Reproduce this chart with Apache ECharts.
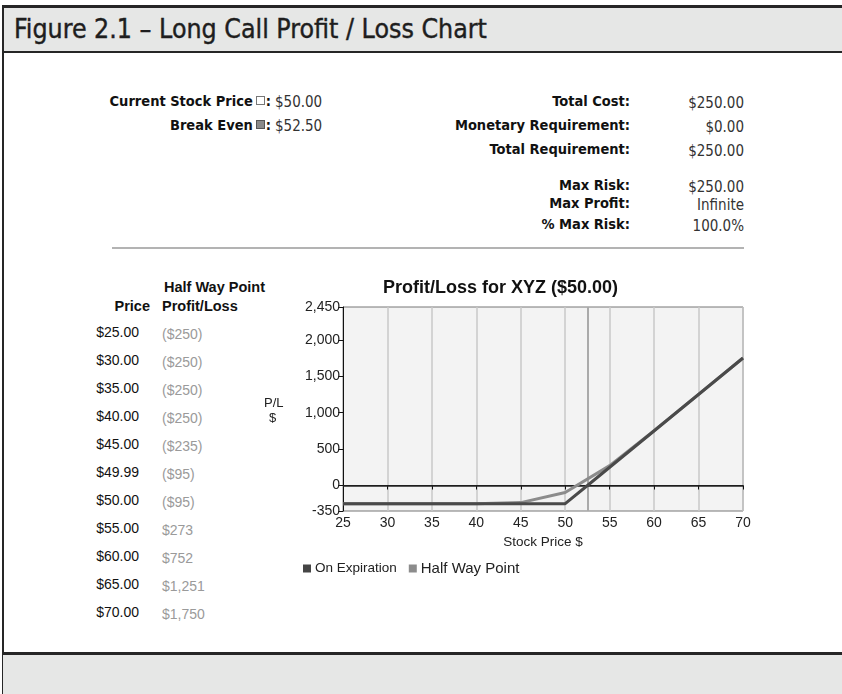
<!DOCTYPE html>
<html>
<head>
<meta charset="utf-8">
<script src="https://cdn.jsdelivr.net/npm/echarts@6/dist/echarts.min.js"></script>
<style>
  html, body { margin:0; padding:0; background:#fff; }
  #page { position:relative; width:842px; height:694px; overflow:hidden; background:#fff; font-family:'Liberation Sans', Arial, sans-serif; }
  .abs { position:absolute; white-space:nowrap; }
  .band { position:absolute; background:#e6e7e6; }
  .rule { position:absolute; background:#262626; }
  .narrow { font-family:'Liberation Sans Narrow','DejaVu Sans Condensed','Liberation Sans',sans-serif; }
  .lbl { font-weight:bold; font-size:14.5px; color:#111; transform:translateY(-50%); }
  .val { font-size:15px; color:#333; transform:translateY(-50%); }
  .rt { text-align:right; }
  .sq { display:inline-block; width:8px; height:8px; margin:0 1px 0 3px; vertical-align:1px; }
  .thead { font-weight:bold; font-size:14.5px; color:#111; transform:translateY(-50%); }
  .tcell { font-size:14px; color:#111; transform:translateY(-50%); }
  .tval { font-size:14px; color:#9a9a9a; transform:translateY(-50%); }
  #chart { position:absolute; left:0; top:0; width:842px; height:694px; }
</style>
</head>
<body>
<div id="page">
  <div class="band" style="left:3px;top:7px;width:839px;height:44px;"></div>
  <div class="rule" style="left:2px;top:5px;width:840px;height:2.5px;"></div>
  <div class="rule" style="left:2px;top:51px;width:840px;height:2px;"></div>
  <div class="rule" style="left:2px;top:5px;width:2px;height:689px;"></div>
  <div class="band" style="left:3px;top:654px;width:839px;height:40px;"></div>
  <div class="rule" style="left:2px;top:652px;width:840px;height:2.5px;"></div>

  <div class="abs narrow" style="left:14px;top:28px;transform:translateY(-50%);font-size:26.5px;color:#1e1e1e;-webkit-text-stroke:0.4px #1e1e1e;">Figure 2.1 – Long Call Profit / Loss Chart</div>

  <div id="info"></div>
  <div class="abs" style="left:112px;top:247px;width:632px;height:2px;background:#b3b3b3;"></div>
  <div id="table"></div>
  <div id="chart"></div>
</div>
<script>
// ---- data ----
const currentPrice = 50.00;
const breakEven = 52.50;
const infoLabels = ['Total Cost:', 'Monetary Requirement:', 'Total Requirement:', 'Max Risk:', 'Max Profit:', '% Max Risk:'];
const infoValues = ['$250.00', '$0.00', '$250.00', '$250.00', 'Infinite', '100.0%'];

const tablePrices = [25.00, 30.00, 35.00, 40.00, 45.00, 49.99, 50.00, 55.00, 60.00, 65.00, 70.00];
const halfWayPL   = [-250, -250, -250, -250, -235, -95, -95, 273, 752, 1251, 1750];

const expirationPrices = [25, 50, 52.5, 70];
const expirationPL     = [-250, -250, 0, 1750];

const xTickValues = [25, 30, 35, 40, 45, 50, 55, 60, 65, 70];
const yTickValues = [-350, 0, 500, 1000, 1500, 2000, 2450];

// ---- info block ----
const infoRowsY = [101, 125, 149, 185, 203, 224];
let html = '';
html += '<div class="abs narrow lbl rt" style="right:571px;top:101px;">Current Stock Price<span class="sq" style="background:#fff;border:1px solid #777;width:7px;height:7px;"></span>:</div>';
html += '<div class="abs narrow val" style="left:275px;top:102px;">$' + currentPrice.toFixed(2) + '</div>';
html += '<div class="abs narrow lbl rt" style="right:571px;top:125px;">Break Even<span class="sq" style="background:#8a8a8a;border:1px solid #555;width:7px;height:7px;"></span>:</div>';
html += '<div class="abs narrow val" style="left:275px;top:126px;">$' + breakEven.toFixed(2) + '</div>';
infoLabels.forEach((l, i) => {
  html += '<div class="abs narrow lbl rt" style="right:212px;top:' + infoRowsY[i] + 'px;">' + l + '</div>';
  html += '<div class="abs narrow val rt" style="right:98px;top:' + (infoRowsY[i] + 2) + 'px;">' + infoValues[i] + '</div>';
});
document.getElementById('info').innerHTML = html;

// ---- table ----
function fmtPL(v) {
  const s = '$' + Math.abs(v).toLocaleString('en-US');
  return v < 0 ? '(' + s + ')' : s;
}
let t = '';
t += '<div class="abs thead" style="left:164px;top:287px;">Half Way Point</div>';
t += '<div class="abs thead rt" style="right:692px;top:306px;">Price</div>';
t += '<div class="abs thead" style="left:162px;top:306px;">Profit/Loss</div>';
tablePrices.forEach((p, i) => {
  const y = 332 + i * 28;
  t += '<div class="abs tcell rt" style="right:703px;top:' + y + 'px;">$' + p.toFixed(2) + '</div>';
  t += '<div class="abs tval" style="left:162px;top:' + (y + 2) + 'px;">' + fmtPL(halfWayPL[i]) + '</div>';
});
document.getElementById('table').innerHTML = t;

// ---- chart ----
const chart = echarts.init(document.getElementById('chart'), null, { renderer: 'canvas' });
const font = "'Liberation Sans', Arial, sans-serif";
chart.setOption({
  backgroundColor: 'transparent',
  animation: false,
  textStyle: { fontFamily: font },
  title: {
    text: 'Profit/Loss for XYZ ($' + currentPrice.toFixed(2) + ')',
    left: 383, top: 279, padding: 0,
    textStyle: { fontSize: 18, fontWeight: 'bold', color: '#111', fontFamily: font }
  },
  legend: {
    left: 298, top: 556,
    icon: 'rect', itemWidth: 8, itemHeight: 8, itemGap: 12,
    data: ['On Expiration', 'Half Way Point'],
    formatter: name => (name === 'On Expiration' ? '{a|' : '{b|') + name + '}',
    textStyle: {
      color: '#222', fontFamily: font, padding: [0, 0, 0, -1],
      rich: {
        a: { fontSize: 13.5, color: '#222', fontFamily: font },
        b: { fontSize: 15, color: '#222', fontFamily: font }
      }
    }
  },
  grid: {
    left: 343, top: 307, width: 400, height: 204,
    show: true, backgroundColor: '#f3f3f3', borderColor: '#777', borderWidth: 1
  },
  graphic: [
    { type: 'text', left: 264, top: 397, style: { text: 'P/L', font: '13px ' + font, fill: '#222' } },
    { type: 'text', left: 269, top: 412, style: { text: '$', font: '13px ' + font, fill: '#222' } }
  ],
  xAxis: {
    type: 'value', min: 25, max: 70, interval: 5,
    name: 'Stock Price $', nameLocation: 'middle', nameGap: 24,
    nameTextStyle: { fontSize: 13.5, color: '#222', fontFamily: font },
    axisLine: { show: true, lineStyle: { color: '#111', width: 1 } },
    axisTick: { show: true, length: 4, lineStyle: { color: '#111' } },
    axisLabel: { fontSize: 14, color: '#222', margin: 5, fontFamily: font },
    splitLine: { show: true, lineStyle: { color: '#c8c8c8', width: 1.5 } }
  },
  yAxis: {
    type: 'value', min: -350, max: 2450,
    axisLine: { show: true, lineStyle: { color: '#111', width: 1 } },
    axisTick: { show: true, length: 5, customValues: yTickValues, lineStyle: { color: '#111' } },
    axisLabel: {
      fontSize: 14, color: '#222', margin: 3, fontFamily: font,
      customValues: yTickValues,
      formatter: v => v.toLocaleString('en-US')
    },
    splitLine: { show: false }
  },
  series: [
    {
      name: 'Half Way Point', type: 'line', showSymbol: false, symbol: 'none',
      data: tablePrices.map((p, i) => [p, halfWayPL[i]]),
      itemStyle: { color: '#8c8c8c' },
      lineStyle: { color: '#8c8c8c', width: 3 },
      z: 3
    },
    {
      name: 'On Expiration', type: 'line', showSymbol: false, symbol: 'none',
      data: expirationPrices.map((p, i) => [p, expirationPL[i]]),
      itemStyle: { color: '#454545' },
      lineStyle: { color: '#4a4a4a', width: 3 },
      z: 4,
      markLine: {
        silent: true, symbol: 'none', label: { show: false }, z: 1,
        data: [
          { xAxis: breakEven, lineStyle: { color: '#aaaaaa', width: 2, type: 'solid' } },
          { yAxis: 0, lineStyle: { color: '#222', width: 1.5, type: 'solid' } }
        ]
      }
    }
  ]
});
</script>
</body>
</html>
